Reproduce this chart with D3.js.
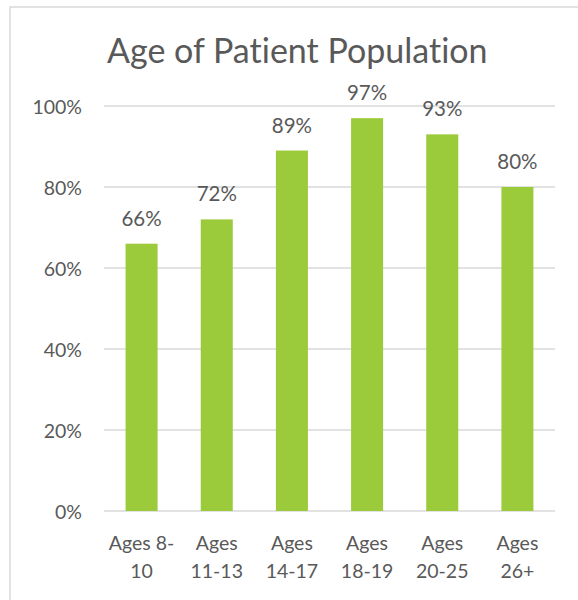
<!DOCTYPE html>
<html>
<head>
<meta charset="utf-8">
<script src="https://cdn.jsdelivr.net/npm/d3@7"></script>
<style>
  html, body { margin: 0; padding: 0; background: #ffffff; }
  svg { display: block; }
  text { font-family: Lato, "Open Sans", sans-serif; fill: #595959; font-variant-ligatures: none; }
</style>
</head>
<body>
<svg id="chart" width="578" height="600"></svg>
<script>
// Share of patients by age group
const categories = [["Ages 8-", "10"], ["Ages", "11-13"], ["Ages", "14-17"], ["Ages", "18-19"], ["Ages", "20-25"], ["Ages", "26+"]];
const values = [0.66, 0.72, 0.89, 0.97, 0.93, 0.80];
const yTicks = [0, 0.2, 0.4, 0.6, 0.8, 1.0];
const title = "Age of Patient Population";

const svg = d3.select("#chart");

// chart frame (continues past the right and bottom edges)
svg.append("rect")
  .attr("x", 10).attr("y", 7)
  .attr("width", 600).attr("height", 620)
  .attr("fill", "#ffffff")
  .attr("stroke", "#d9d9d9")
  .attr("stroke-width", 1.5);

const plotLeft = 104, plotRight = 555, plotTop = 106, plotBottom = 511;

const keys = categories.map(c => c.join(" "));
const x = d3.scaleBand()
  .domain(keys)
  .range([plotLeft, plotRight])
  .paddingInner(0.574)
  .paddingOuter(0.287);

const y = d3.scaleLinear().domain([0, 1]).range([plotBottom, plotTop]);

// gridlines
svg.append("g")
  .selectAll("line")
  .data(yTicks)
  .join("line")
  .attr("x1", plotLeft).attr("x2", plotRight)
  .attr("y1", d => y(d)).attr("y2", d => y(d))
  .attr("stroke", "#d9d9d9")
  .attr("stroke-width", 1.3);

// y axis labels
const yAxis = d3.axisLeft(y).tickValues(yTicks).tickFormat(d3.format(".0%")).tickSize(0).tickPadding(0);
const yg = svg.append("g").attr("transform", `translate(82,0)`).call(yAxis);
yg.select(".domain").remove();
yg.selectAll("text")
  .attr("font-size", 19.5)
  .attr("fill", "#595959")
  .attr("dy", "0.36em")
  .style("font-family", "Lato, 'Open Sans', sans-serif");

// bars
svg.append("g")
  .selectAll("rect")
  .data(values)
  .join("rect")
  .attr("x", (d, i) => x(keys[i]))
  .attr("width", x.bandwidth())
  .attr("y", d => y(d))
  .attr("height", d => y(0) - y(d))
  .attr("fill", "#9bcb3b");

// value labels
svg.append("g")
  .selectAll("text")
  .data(values)
  .join("text")
  .attr("x", (d, i) => x(keys[i]) + x.bandwidth() / 2)
  .attr("y", d => y(d) - 18)
  .attr("text-anchor", "middle")
  .attr("font-size", 20.5)
  .text(d => d3.format(".0%")(d));

// category labels (two lines each)
const cat = svg.append("g")
  .selectAll("text")
  .data(categories)
  .join("text")
  .attr("x", (d, i) => x(keys[i]) + x.bandwidth() / 2)
  .attr("y", 550)
  .attr("text-anchor", "middle")
  .attr("font-size", 19.5);
cat.selectAll("tspan")
  .data(d => d)
  .join("tspan")
  .attr("x", function () { return d3.select(this.parentNode).attr("x"); })
  .attr("dy", (d, j) => j === 0 ? 0 : 27.5)
  .text(d => d);

// title
svg.append("text")
  .attr("x", 107)
  .attr("y", 63)
  .attr("font-size", 34)
  .text(title);
</script>
</body>
</html>
